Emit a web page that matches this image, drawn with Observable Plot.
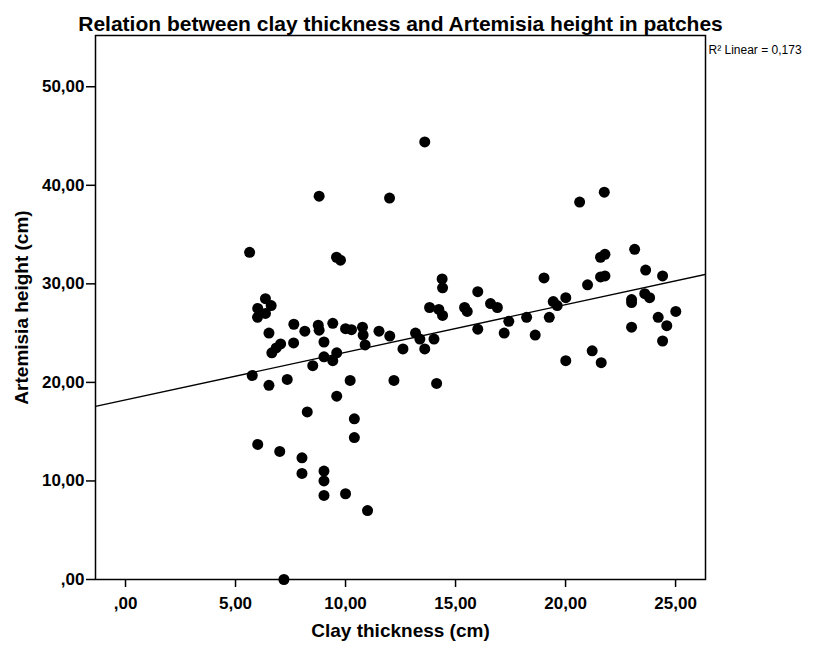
<!DOCTYPE html>
<html>
<head>
<meta charset="utf-8">
<script src="https://cdn.jsdelivr.net/npm/d3@7"></script>
<script src="https://cdn.jsdelivr.net/npm/@observablehq/plot@0.6"></script>
<style>
  html, body { margin: 0; padding: 0; background: #fff; }
</style>
</head>
<body>
<div id="chart"></div>
<script>
const clayThickness = [
  5.64, 5.76, 6.01, 6.36, 6.62, 6.01, 6.36, 6.0, 6.52, 6.65,
  6.85, 7.05, 6.52, 7.01, 7.2, 7.35, 7.65, 7.64, 8.15, 8.26,
  8.02, 8.02, 8.51, 8.76, 8.80, 8.80, 9.02, 9.02, 9.02, 9.02,
  9.02, 9.42, 9.42, 9.6, 9.6, 9.59, 9.77, 10.0, 10.27, 10.21,
  10.0, 10.4, 10.4, 10.77, 10.8, 10.89, 11.0, 11.52, 12.0, 12.01,
  12.2, 12.61, 13.18, 13.38, 13.6, 13.6, 13.82, 14.02, 14.14, 14.24,
  14.41, 14.39, 14.41, 15.41, 15.53, 16.01, 16.01, 16.59, 16.9, 17.21,
  17.42, 18.23, 18.62, 19.02, 19.26, 19.44, 19.62, 20.01, 20.01, 20.64,
  21.0, 21.21, 21.59, 21.79, 21.59, 21.79, 21.62, 21.76, 23.0, 23.0,
  23.0, 23.14, 23.6, 23.82, 23.64, 24.21, 24.41, 24.41, 24.6, 25.01
];
const artemisiaHeight = [
  33.2, 20.7, 13.7, 28.5, 27.8, 27.5, 27.0, 26.6, 25.0, 23.0,
  23.5, 23.9, 19.7, 13.0, 0.0, 20.3, 25.9, 24.0, 25.2, 17.0,
  12.35, 10.76, 21.7, 25.8, 25.3, 38.9, 24.1, 22.6, 11.0, 10.0,
  8.53, 26.0, 22.2, 23.0, 18.6, 32.7, 32.4, 25.45, 25.35, 20.2,
  8.7, 16.3, 14.4, 25.6, 24.8, 23.8, 7.0, 25.2, 38.7, 24.7,
  20.2, 23.4, 25.0, 24.4, 23.4, 44.4, 27.6, 24.4, 19.9, 27.4,
  26.8, 30.5, 29.6, 27.6, 27.2, 29.2, 25.4, 28.0, 27.6, 25.0,
  26.2, 26.6, 24.8, 30.6, 26.6, 28.2, 27.8, 28.6, 22.2, 38.3,
  29.9, 23.2, 32.7, 33.0, 30.7, 30.8, 22.0, 39.3, 28.4, 28.1,
  25.6, 33.5, 29.0, 28.6, 31.4, 26.6, 30.8, 24.2, 25.75, 27.2
];
const xTicks = [0, 5, 10, 15, 20, 25];
const yTicks = [0, 10, 20, 30, 40, 50];
const fitIntercept = 18.22;
const fitSlope = 0.4834;
const rSquaredLabel = "R\u00B2 Linear = 0,173";

const titleText = "Relation between clay thickness and Artemisia height in patches";
const xTitle = "Clay thickness (cm)";
const yTitle = "Artemisia height (cm)";

const xDomain = [-1.364, 26.36];
const yDomain = [0, 55.2];

const points = clayThickness.map((x, i) => ({x, y: artemisiaHeight[i]}));
const fitLine = xDomain.map(x => ({x, y: fitIntercept + fitSlope * x}));

const fmt = d => d === 0 ? ",00" : d.toFixed(2).replace(".", ",");

const font = "'Liberation Sans', Arial, sans-serif";

const chart = Plot.plot({
  width: 820,
  height: 648,
  marginLeft: 95,
  marginRight: 115,
  marginTop: 35,
  marginBottom: 69,
  style: {fontFamily: font, background: "#fff", color: "#000"},
  x: {domain: xDomain},
  y: {domain: yDomain},
  marks: [
    Plot.dot(points, {x: "x", y: "y", r: 5.5, fill: "black", stroke: "none"}),
    Plot.line(fitLine, {x: "x", y: "y", stroke: "black", strokeWidth: 1.4, clip: true}),
    Plot.frame({stroke: "black", strokeWidth: 1.5}),
    Plot.axisX({ticks: xTicks, tickFormat: fmt, tickSize: 8, tickPadding: 9, label: null,
      fontSize: 17, fontWeight: "bold", strokeWidth: 1.5}),
    Plot.axisY({ticks: yTicks, tickFormat: fmt, tickSize: 9, tickPadding: 2, label: null,
      fontSize: 17, fontWeight: "bold", strokeWidth: 1.5}),
    Plot.text([titleText], {frameAnchor: "top", dy: -19, fontSize: 21, fontWeight: "bold", fill: "black"}),
    Plot.text([xTitle], {frameAnchor: "bottom", dy: 57, fontSize: 19, fontWeight: "bold", fill: "black"}),
    Plot.text([yTitle], {frameAnchor: "left", dx: -74, rotate: -90, textAnchor: "middle", fontSize: 19, fontWeight: "bold", fill: "black"}),
    Plot.text([rSquaredLabel], {frameAnchor: "top-right", dx: 3, dy: 10, textAnchor: "start", fontSize: 12, fill: "black"})
  ]
});
document.getElementById("chart").appendChild(chart);
</script>
</body>
</html>
